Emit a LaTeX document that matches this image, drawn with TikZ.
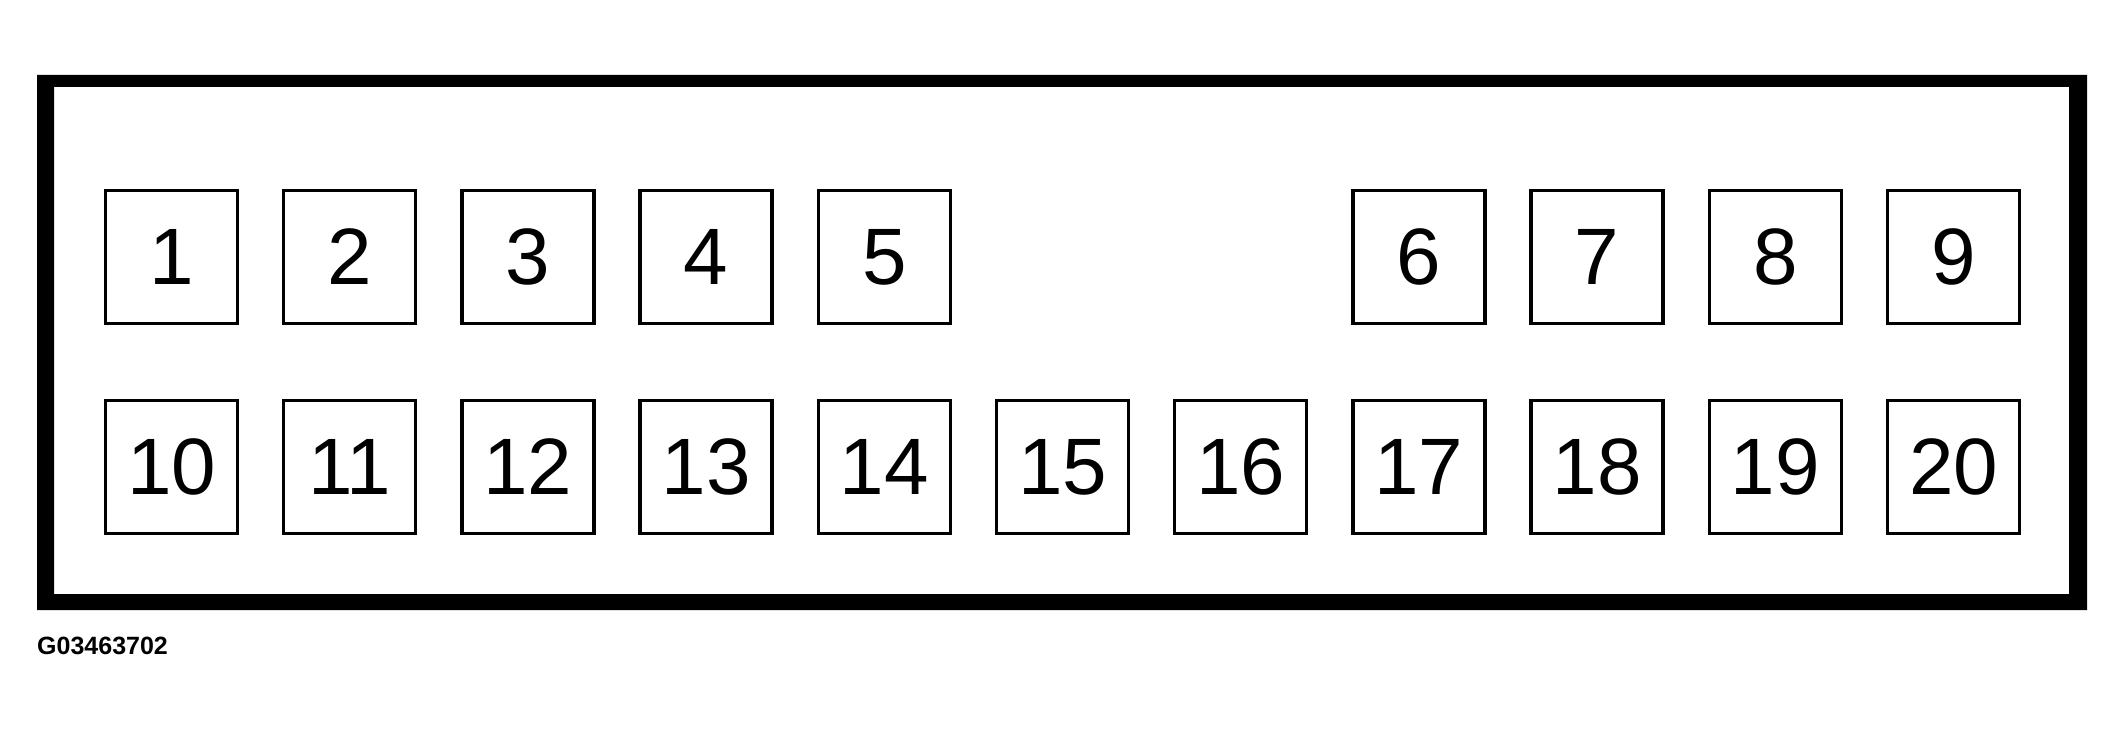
\documentclass[tikz,border=0pt]{standalone}
\usepackage{fontspec}
\setmainfont{Liberation Sans}
\begin{document}
\begin{tikzpicture}[x=1pt,y=-1pt,
  pin/.style={draw=black,line width=3.5pt,rectangle,inner sep=0pt,
    minimum width=132pt,minimum height=133pt,
    font=\fontsize{80}{96}\selectfont},
  code/.style={anchor=base west,inner sep=0pt,font=\fontsize{25}{30}\selectfont\bfseries}]
\useasboundingbox (0,0) rectangle (2124,730);
% connector housing frame
\fill[black,even odd rule] (37,75) rectangle (2087,610) (54,87) rectangle (2069,594);
% upper row
\foreach \n/\c in {1/0,2/1,3/2,4/3,5/4,6/7,7/8,8/9,9/10}
  \node[pin] (p\n) at ({171.5+178.2*\c},257) {\n};
% lower row
\foreach \n/\c in {10/0,11/1,12/2,13/3,14/4,15/5,16/6,17/7,18/8,19/9,20/10}
  \node[pin] (p\n) at ({171.5+178.2*\c},467) {\n};
\node[code] (id) at (37,654) {G03463702};
\end{tikzpicture}
\end{document}
